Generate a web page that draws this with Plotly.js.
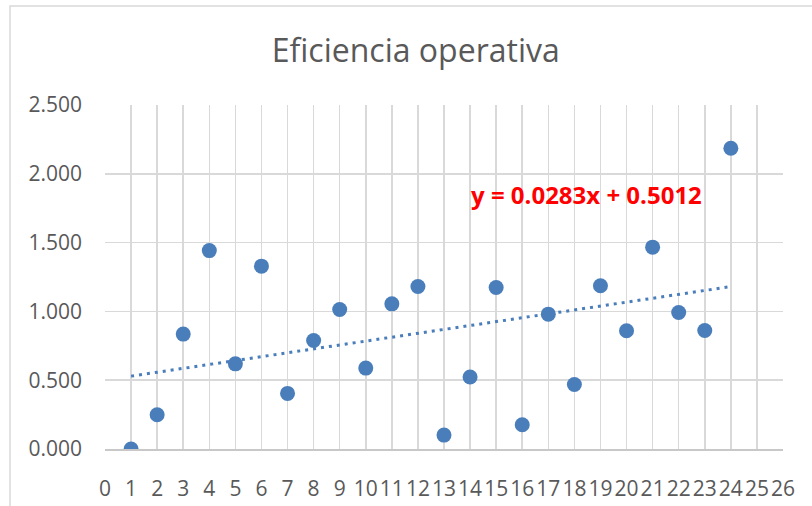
<!DOCTYPE html>
<html>
<head>
<meta charset="utf-8">
<script src="https://cdn.plot.ly/plotly-3.0.1.min.js"></script>
<style>html,body{margin:0;padding:0;background:#fff;}#chart{width:812px;height:506px;}</style>
</head>
<body>
<div id="chart"></div>
<script>
// Data
const periods = [1,2,3,4,5,6,7,8,9,10,11,12,13,14,15,16,17,18,19,20,21,22,23,24];
const efficiency = [0.000,0.249,0.835,1.442,0.619,1.329,0.404,0.789,1.014,0.588,1.055,1.181,0.101,0.523,1.174,0.176,0.980,0.469,1.186,0.859,1.467,0.992,0.861,2.186];
const trendSlope = 0.0283;
const trendIntercept = 0.5012;
const chartTitle = "Eficiencia operativa";
const equationLabel = "y = 0.0283x + 0.5012";
const xTicks = [0,1,2,3,4,5,6,7,8,9,10,11,12,13,14,15,16,17,18,19,20,21,22,23,24,25,26];
const yTicks = [0,0.5,1,1.5,2,2.5];

const trendX = [periods[0], periods[periods.length-1]];
const trendY = trendX.map(x => trendSlope*x + trendIntercept);

const blue = '#4a7ebb';
const grid = '#d9d9d9';
const txt = '#595959';

const traces = [
  {x: trendX, y: trendY, type:'scatter', mode:'lines',
   line:{color: blue, width:3, dash:'3px,5px'}, hoverinfo:'skip', showlegend:false},
  {x: periods, y: efficiency, type:'scatter', mode:'markers',
   marker:{color: blue, size:15}, showlegend:false}
];

const layout = {
  width:812, height:506,
  margin:{l:105, r:29, t:105, b:57, pad:0},
  paper_bgcolor:'#fff', plot_bgcolor:'#fff',
  font:{family:'"Open Sans", sans-serif', color: txt},
  title:{text: chartTitle, x:0.512, xanchor:'center', y:0.9, yanchor:'middle',
         font:{family:'"Open Sans", sans-serif', size:32, color: txt}},
  xaxis:{range:[0,26], tickvals:xTicks, ticktext:xTicks.map(String),
         showgrid:true, gridcolor:grid, gridwidth:1.5, zeroline:false,
         showline:true, linecolor:'#c8c8c8', linewidth:1.5,
         ticks:'', ticklabelstandoff:20, tickfont:{size:21, color:txt}, fixedrange:true},
  yaxis:{range:[0,2.5], tickvals:yTicks, tickformat:'.3f',
         showgrid:true, gridcolor:grid, gridwidth:1.5, zeroline:false,
         showline:false, ticks:'', ticklabelstandoff:22,
         tickfont:{size:21, color:txt}, fixedrange:true},
  annotations:[{x:18.48, y:1.847, xref:'x', yref:'y', text:'<b>'+equationLabel+'</b>',
    showarrow:false, xanchor:'center', yanchor:'middle',
    font:{family:'"Open Sans", sans-serif', size:24, color:'#ff0000'}}],
  shapes:[{type:'rect', xref:'paper', yref:'paper', x0:-0.1401, x1:1.06, y0:-0.18, y1:1.2878,
    line:{color:grid, width:1.5}, fillcolor:'rgba(0,0,0,0)', layer:'below'}]
};

Plotly.newPlot('chart', traces, layout, {displayModeBar:false, staticPlot:true});
</script>
</body>
</html>
